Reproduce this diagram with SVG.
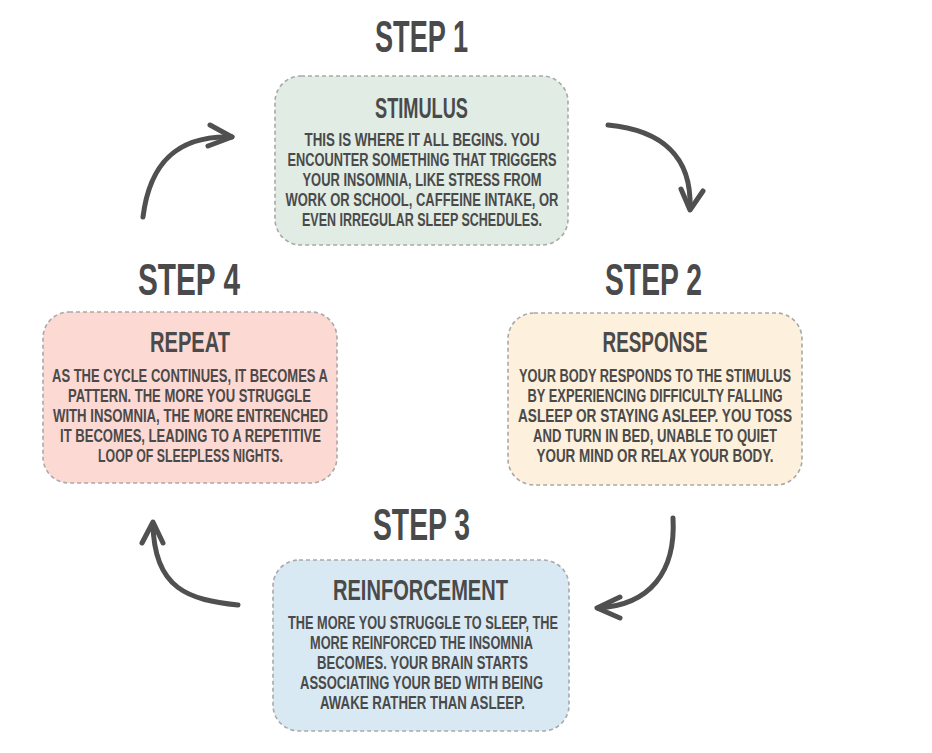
<svg xmlns="http://www.w3.org/2000/svg" width="932" height="753" viewBox="0 0 932 753">
<style>
.bg{fill:#ffffff}
.box{stroke:#a9a9a9;stroke-width:1.6;stroke-dasharray:4 3}
.t{font-family:"Liberation Sans",Arial,sans-serif;font-weight:bold;fill:#4a4a4a;text-anchor:middle}
.step{font-size:45px}
.title{font-size:30px}
.body{font-size:19px}
.arr{fill:none;stroke:#505050;stroke-width:5;stroke-linecap:round;stroke-linejoin:round}
</style>
<rect class="bg" x="0" y="0" width="932" height="753"/>

<g id="step1">
<text class="t step" x="421.5" y="52" textLength="93" lengthAdjust="spacingAndGlyphs">STEP 1</text>
</g>
<g id="step2">
<text class="t step" x="653.5" y="295" textLength="97" lengthAdjust="spacingAndGlyphs">STEP 2</text>
</g>
<g id="step3">
<text class="t step" x="421.5" y="540" textLength="97" lengthAdjust="spacingAndGlyphs">STEP 3</text>
</g>
<g id="step4">
<text class="t step" x="189" y="295" textLength="102" lengthAdjust="spacingAndGlyphs">STEP 4</text>
</g>

<g id="stimulus">
<rect class="box" x="275" y="76" width="293" height="169" rx="26" fill="#e1ece5"/>
<text class="t title" x="421.5" y="118" textLength="93" lengthAdjust="spacingAndGlyphs">STIMULUS</text>
<text class="t body" x="422" y="145.5" textLength="235" lengthAdjust="spacingAndGlyphs">THIS IS WHERE IT ALL BEGINS. YOU</text>
<text class="t body" x="422" y="165.5" textLength="269" lengthAdjust="spacingAndGlyphs">ENCOUNTER SOMETHING THAT TRIGGERS</text>
<text class="t body" x="422" y="185.5" textLength="239" lengthAdjust="spacingAndGlyphs">YOUR INSOMNIA, LIKE STRESS FROM</text>
<text class="t body" x="422" y="205.5" textLength="273" lengthAdjust="spacingAndGlyphs">WORK OR SCHOOL, CAFFEINE INTAKE, OR</text>
<text class="t body" x="422" y="225.5" textLength="240" lengthAdjust="spacingAndGlyphs">EVEN IRREGULAR SLEEP SCHEDULES.</text>
</g>

<g id="response">
<rect class="box" x="508" y="313" width="294" height="172" rx="26" fill="#fdf0dc"/>
<text class="t title" x="655" y="352" textLength="105" lengthAdjust="spacingAndGlyphs">RESPONSE</text>
<text class="t body" x="655" y="381.5" textLength="272" lengthAdjust="spacingAndGlyphs">YOUR BODY RESPONDS TO THE STIMULUS</text>
<text class="t body" x="655" y="401.5" textLength="255" lengthAdjust="spacingAndGlyphs">BY EXPERIENCING DIFFICULTY FALLING</text>
<text class="t body" x="655" y="421.5" textLength="274" lengthAdjust="spacingAndGlyphs">ASLEEP OR STAYING ASLEEP. YOU TOSS</text>
<text class="t body" x="655" y="441.5" textLength="244" lengthAdjust="spacingAndGlyphs">AND TURN IN BED, UNABLE TO QUIET</text>
<text class="t body" x="655" y="461.5" textLength="237" lengthAdjust="spacingAndGlyphs">YOUR MIND OR RELAX YOUR BODY.</text>
</g>

<g id="reinforcement">
<rect class="box" x="273" y="560" width="296" height="171" rx="26" fill="#d9e9f3"/>
<text class="t title" x="420.5" y="600" textLength="175" lengthAdjust="spacingAndGlyphs">REINFORCEMENT</text>
<text class="t body" x="423" y="628.5" textLength="270" lengthAdjust="spacingAndGlyphs">THE MORE YOU STRUGGLE TO SLEEP, THE</text>
<text class="t body" x="421.5" y="648.5" textLength="223" lengthAdjust="spacingAndGlyphs">MORE REINFORCED THE INSOMNIA</text>
<text class="t body" x="422.5" y="668.5" textLength="211" lengthAdjust="spacingAndGlyphs">BECOMES. YOUR BRAIN STARTS</text>
<text class="t body" x="421.5" y="688.5" textLength="243" lengthAdjust="spacingAndGlyphs">ASSOCIATING YOUR BED WITH BEING</text>
<text class="t body" x="422.5" y="708.5" textLength="205" lengthAdjust="spacingAndGlyphs">AWAKE RATHER THAN ASLEEP.</text>
</g>

<g id="repeat">
<rect class="box" x="43" y="312" width="294" height="171" rx="26" fill="#fdd9d3"/>
<text class="t title" x="190" y="352" textLength="80" lengthAdjust="spacingAndGlyphs">REPEAT</text>
<text class="t body" x="190" y="381.5" textLength="276" lengthAdjust="spacingAndGlyphs">AS THE CYCLE CONTINUES, IT BECOMES A</text>
<text class="t body" x="189.5" y="401.5" textLength="243" lengthAdjust="spacingAndGlyphs">PATTERN. THE MORE YOU STRUGGLE</text>
<text class="t body" x="190.5" y="421.5" textLength="275" lengthAdjust="spacingAndGlyphs">WITH INSOMNIA, THE MORE ENTRENCHED</text>
<text class="t body" x="190.5" y="441.5" textLength="261" lengthAdjust="spacingAndGlyphs">IT BECOMES, LEADING TO A REPETITIVE</text>
<text class="t body" x="190.5" y="461.5" textLength="185" lengthAdjust="spacingAndGlyphs">LOOP OF SLEEPLESS NIGHTS.</text>
</g>

<g id="connectors">
<path class="arr" d="M608,125 C660,130 692,155 690,208"/>
<path class="arr" d="M681,189 L690,210 L703,191"/>
<path class="arr" d="M673,518 C676,572 650,605 598,608"/>
<path class="arr" d="M620,597 L597,608 L620,618"/>
<path class="arr" d="M238,605 C190,600 154,590 153,524"/>
<path class="arr" d="M142,543 L153,522 L163,543"/>
<path class="arr" d="M143,217 C150,160 180,135 232,137"/>
<path class="arr" d="M210,125 L232,137 L208,146"/>
</g>
</svg>
